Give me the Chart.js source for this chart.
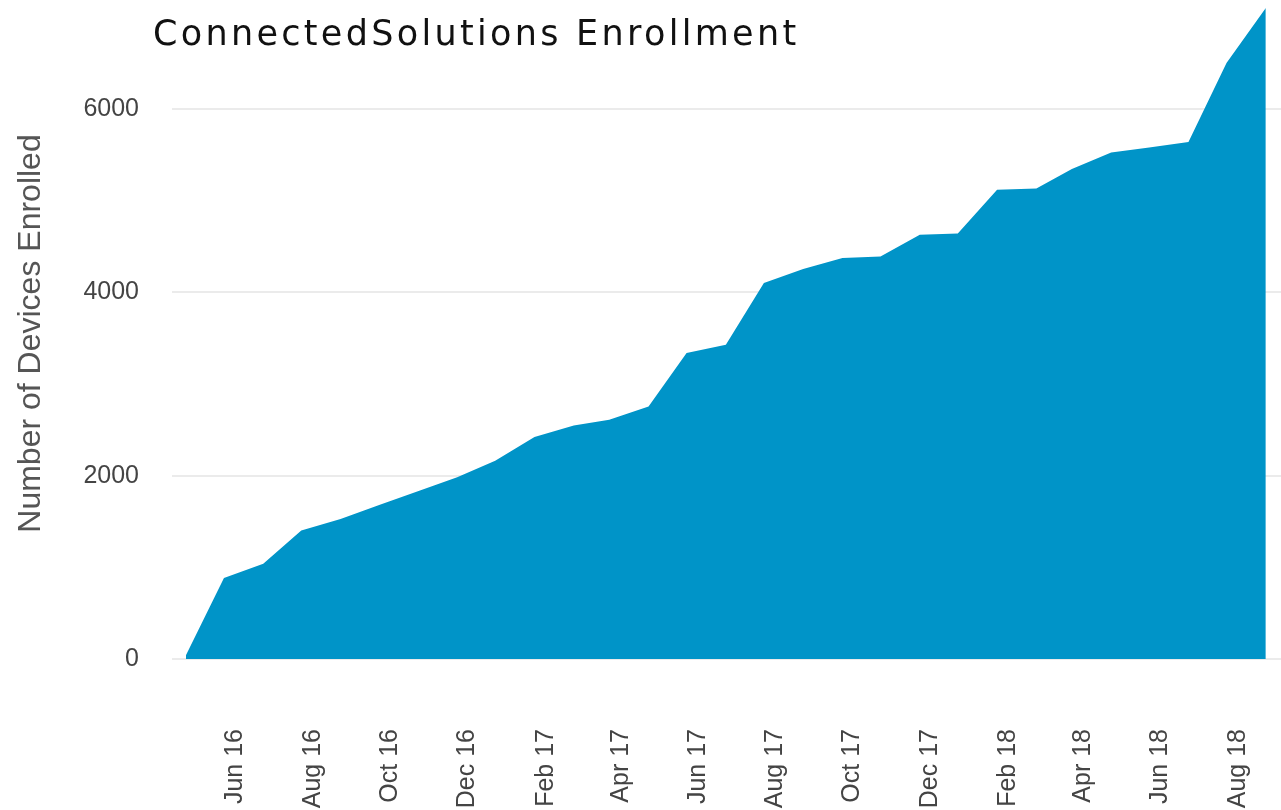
<!DOCTYPE html>
<html>
<head>
<meta charset="utf-8">
<script src="https://cdn.jsdelivr.net/npm/chart.js@4/dist/chart.umd.min.js"></script>
<style>
  html, body { margin: 0; padding: 0; background: #ffffff; }
  #wrap { width: 1281px; height: 810px; }
</style>
</head>
<body>
<div id="wrap"><canvas id="c" width="1281" height="810"></canvas></div>
<script>
// ---- data ----
const TITLE = 'ConnectedSolutions Enrollment';
const Y_TITLE = 'Number of Devices Enrolled';

const pointDates = [
  '2016-04-23','2016-05-23','2016-06-23','2016-07-23','2016-08-23','2016-09-23',
  '2016-10-23','2016-11-23','2016-12-23','2017-01-23','2017-02-23','2017-03-23',
  '2017-04-23','2017-05-23','2017-06-23','2017-07-23','2017-08-23','2017-09-23',
  '2017-10-23','2017-11-23','2017-12-23','2018-01-23','2018-02-23','2018-03-23',
  '2018-04-23','2018-05-23','2018-06-23','2018-07-23','2018-08-23'
];
const enrolled = [
  40, 884, 1040, 1403, 1527, 1683,
  1829, 1982, 2164, 2422, 2549, 2611,
  2756, 3339, 3429, 4102, 4255, 4375,
  4392, 4629, 4643, 5120, 5134, 5346,
  5527, 5580, 5640, 6502, 7103
];
const tickDates = [
  '2016-06-01','2016-08-01','2016-10-01','2016-12-01','2017-02-01','2017-04-01',
  '2017-06-01','2017-08-01','2017-10-01','2017-12-01','2018-02-01','2018-04-01',
  '2018-06-01','2018-08-01'
];
const tickLabels = [
  'Jun 16','Aug 16','Oct 16','Dec 16','Feb 17','Apr 17',
  'Jun 17','Aug 17','Oct 17','Dec 17','Feb 18','Apr 18',
  'Jun 18','Aug 18'
];
const yTicks = [0, 2000, 4000, 6000];
const xRange = ['2016-04-12', '2018-09-04'];

// ---- helpers ----
function toDay(s) {
  const [y, m, d] = s.split('-').map(Number);
  return Date.UTC(y, m - 1, d) / 86400000;
}

const points = pointDates.map((d, i) => ({ x: toDay(d), y: enrolled[i] }));

const titlePlugin = {
  id: 'spacedTitle',
  afterDraw(chart) {
    const ctx = chart.ctx;
    ctx.save();
    ctx.font = '35px "DejaVu Sans", Verdana, sans-serif';
    try { ctx.letterSpacing = '3.3px'; } catch (e) {}
    ctx.fillStyle = '#111111';
    ctx.textAlign = 'left';
    ctx.textBaseline = 'alphabetic';
    ctx.fillText(TITLE, 153, 45);
    ctx.restore();
  }
};

new Chart(document.getElementById('c'), {
  type: 'line',
  data: {
    datasets: [{
      label: 'Enrolled',
      data: points,
      fill: 'origin',
      backgroundColor: '#0094c8',
      borderColor: '#0094c8',
      borderWidth: 0,
      pointRadius: 0,
      tension: 0
    }]
  },
  options: {
    responsive: false,
    devicePixelRatio: 1,
    animation: false,
    layout: { padding: { top: 8, left: 0, right: 0, bottom: 0 } },
    plugins: {
      legend: { display: false },
      tooltip: { enabled: false },
      title: { display: false }
    },
    scales: {
      x: {
        type: 'linear',
        min: toDay(xRange[0]),
        max: toDay(xRange[1]),
        grid: { display: false, drawTicks: false },
        border: { display: false },
        afterBuildTicks(scale) {
          scale.ticks = tickDates.map(d => ({ value: toDay(d) }));
        },
        afterFit(scale) {
          scale.height = 151;
          scale.paddingLeft = 0; scale.paddingRight = 0;
          scale.paddingTop = 0; scale.paddingBottom = 0;
        },
        ticks: {
          autoSkip: false,
          minRotation: 90,
          maxRotation: 90,
          padding: 70,
          color: '#444444',
          font: { family: '"Liberation Sans", Arial, sans-serif', size: 25 },
          callback(value, index) { return tickLabels[index]; }
        }
      },
      y: {
        min: 0,
        max: Math.max(...enrolled),
        grid: { color: '#ebebeb', lineWidth: 2, drawTicks: false },
        border: { display: false },
        afterBuildTicks(scale) {
          scale.ticks = yTicks.map(v => ({ value: v }));
        },
        afterFit(scale) {
          scale.width = 172;
          scale.paddingLeft = 0; scale.paddingRight = 0;
          scale.paddingTop = 0; scale.paddingBottom = 0;
        },
        ticks: {
          padding: 33,
          color: '#444444',
          font: { family: '"Liberation Sans", Arial, sans-serif', size: 25 },
          callback(value) { return String(value); }
        },
        title: {
          display: true,
          text: Y_TITLE,
          color: '#555555',
          padding: { top: 12, bottom: 0 },
          font: { family: '"Liberation Sans", Arial, sans-serif', size: 32 }
        }
      }
    }
  },
  plugins: [titlePlugin]
});
</script>
</body>
</html>
